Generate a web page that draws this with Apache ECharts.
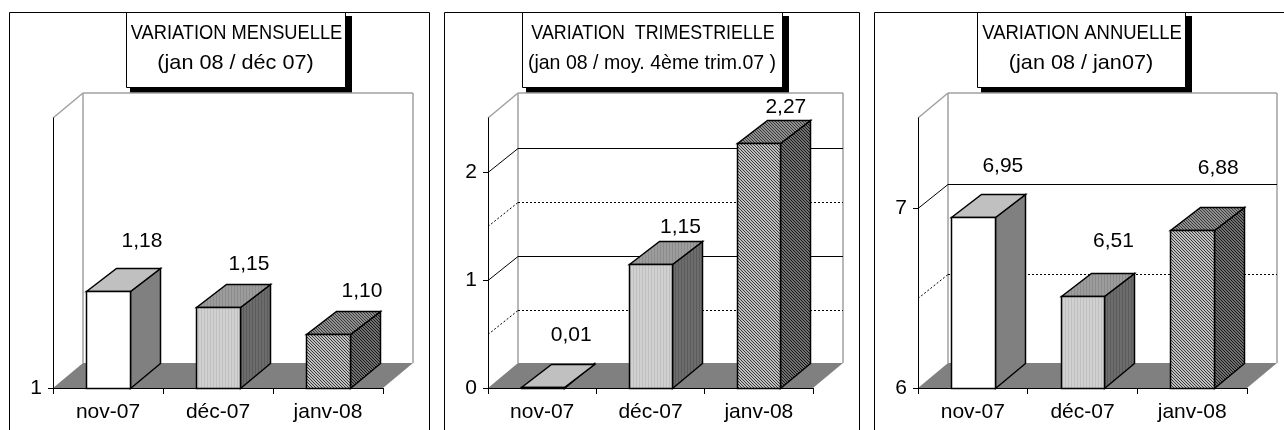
<!DOCTYPE html>
<html>
<head>
<meta charset="utf-8">
<style>
  html, body { margin: 0; padding: 0; background: #fff; }
  #chart { width: 1284px; height: 430px; }
</style>
</head>
<body>
<div id="chart"></div>
<script src="https://cdn.jsdelivr.net/npm/echarts@6/dist/echarts.min.js"></script>
<script>
const categories = ['nov-07', 'déc-07', 'janv-08']

const mensuelleValues = [1.18, 1.15, 1.10]
const trimestrielleValues = [0.01, 1.15, 2.27]
const annuelleValues = [6.95, 6.51, 6.88]

const mensuelleTicks = [1]
const trimestrielleTicks = [0, 1, 2]
const annuelleTicks = [6, 7]

const trimestrielleMinor = [0.5, 1.5]
const annuelleMinor = [6.5]

const FONT = '"Liberation Sans", Arial, sans-serif'
const DEPTH_X = 30
const DEPTH_Y = 25
const GRID_DEPTH_Y = 24
const BAR_DEPTH_Y = 23

// same hatch everywhere, only the two tones change
const makePattern = (bg, fg, vertical) => {
  const size = 3
  const c = document.createElement('canvas')
  c.width = size
  c.height = size
  const ctx = c.getContext('2d')
  ctx.fillStyle = bg
  ctx.fillRect(0, 0, size, size)
  ctx.fillStyle = fg
  if (vertical) {
    ctx.fillRect(0, 0, 1, size)
  } else {
    for (let i = 0; i < size; i++) ctx.fillRect(i, i, 1, 1)
  }
  return { image: c, repeat: 'repeat' }
}

const barFills = [
  { front: '#ffffff', top: '#c0c0c0', side: '#808080' },
  {
    front: makePattern('#d0d0d0', '#c0c0c0', true),
    top: makePattern('#9c9c9c', '#8c8c8c', true),
    side: makePattern('#6c6c6c', '#5c5c5c', true)
  },
  {
    front: makePattern('#c0c0c0', '#383838'),
    top: makePattern('#909090', '#383838'),
    side: makePattern('#707070', '#181818')
  }
]

const panels = [
  {
    values: mensuelleValues, ticks: mensuelleTicks, minor: [], min: 1, max: 1.5,
    frame: [9, 420], plot: [53, 330],
    box: [126, 219],
    line1: 'VARIATION MENSUELLE', scale1: 0.87,
    line2: '(jan 08 / déc 07)', scale2: 1.03,
    labelX: [34, 31, 34], labelY: [27, 20, 20]
  },
  {
    values: trimestrielleValues, ticks: trimestrielleTicks, minor: trimestrielleMinor, min: 0, max: 2.5,
    frame: [444, 415], plot: [488, 325],
    box: [522, 260],
    line1: 'VARIATION  TRIMESTRIELLE', scale1: 0.85,
    line2: '(jan 08 / moy. 4ème trim.07 )', scale2: 0.93,
    labelX: [29, 30, 27], labelY: [29, 14, 13]
  },
  {
    values: annuelleValues, ticks: annuelleTicks, minor: annuelleMinor, min: 6, max: 7.5,
    frame: [874, 440], plot: [918, 329],
    box: [977, 208],
    line1: 'VARIATION ANNUELLE', scale1: 0.88,
    line2: '(jan 08 / jan07)', scale2: 1.03,
    labelX: [30, 31, 26], labelY: [28, 32, 39]
  }
]

const line = (x1, y1, x2, y2, stroke, lineWidth, lineDash) => ({
  type: 'line',
  shape: { x1, y1, x2, y2 },
  style: { stroke, lineWidth: lineWidth || 1, lineDash: lineDash || null }
})

const poly = (points, fill, stroke) => ({
  type: 'polygon',
  shape: { points },
  style: { fill, stroke: stroke || null, lineWidth: 1.5 }
})

// floor, walls and the gridlines, pushed back by the depth offset
const renderBackdrop = (panel) => (params, api) => {
  const { x, y, width, height } = params.coordSys
  const right = x + width
  const bottom = y + height
  const children = [
    poly([[x, bottom], [x + DEPTH_X, bottom - DEPTH_Y], [right + DEPTH_X, bottom - DEPTH_Y], [right, bottom]], '#808080'),
    line(x, y, x + DEPTH_X, y - DEPTH_Y, '#a0a0a0', 1.5),
    line(x + DEPTH_X, y - DEPTH_Y, right + DEPTH_X, y - DEPTH_Y, '#a0a0a0', 1.5),
    line(x + DEPTH_X, y - DEPTH_Y, x + DEPTH_X, bottom - DEPTH_Y, '#a0a0a0', 1.5),
    line(right + DEPTH_X, y - DEPTH_Y, right + DEPTH_X, bottom - DEPTH_Y, '#a0a0a0', 1.5)
  ]
  const addGrid = (v, dash) => {
    const py = Math.round(api.coord([0, v])[1]) + 0.5
    children.push(line(x, py, x + DEPTH_X, py - GRID_DEPTH_Y, '#000', 1, dash))
    children.push(line(x + DEPTH_X, py - GRID_DEPTH_Y, right + DEPTH_X, py - GRID_DEPTH_Y, '#000', 1, dash))
  }
  panel.ticks.filter((v) => v > panel.min).forEach((v) => addGrid(v))
  panel.minor.forEach((v) => addGrid(v, [2, 2]))
  return { type: 'group', children }
}

const renderBar = (panel) => (params, api) => {
  const i = params.dataIndex
  const value = api.value(1)
  const [cx, topY] = api.coord([api.value(0), value])
  const baseY = api.coord([api.value(0), panel.min])[1]
  const half = api.size([1, 0])[0] * 0.2
  const l = Math.round(cx - half) + 0.5
  const r = Math.round(cx + half) + 0.5
  const t = Math.round(topY) + 0.5
  const b = Math.round(baseY) + 0.5
  const fills = barFills[i]
  const dx = DEPTH_X
  const dy = BAR_DEPTH_Y
  return {
    type: 'group',
    children: [
      poly([[r, t], [r + dx, t - dy], [r + dx, b - DEPTH_Y], [r, b]], fills.side, '#000'),
      poly([[l, t], [l + dx, t - dy], [r + dx, t - dy], [r, t]], fills.top, '#000'),
      poly([[l, t], [r, t], [r, b], [l, b]], fills.front, '#000'),
      {
        type: 'text',
        style: {
          text: value.toFixed(2).replace('.', ','),
          x: cx + panel.labelX[i],
          y: t - dy - panel.labelY[i],
          fill: '#000',
          font: '21px ' + FONT,
          textAlign: 'center',
          textVerticalAlign: 'middle'
        }
      }
    ]
  }
}

const graphics = []
panels.forEach((p) => {
  const [bx, bw] = p.box
  const mid = bx + bw / 2
  graphics.push(
    { type: 'rect', shape: { x: p.frame[0] + 0.5, y: 12.5, width: p.frame[1], height: 440 }, style: { fill: 'none', stroke: '#000', lineWidth: 1 } },
    { type: 'rect', shape: { x: bx + 4, y: 16, width: bw + 3, height: 77 }, style: { fill: '#000' } },
    { type: 'rect', shape: { x: bx + 0.5, y: 12.5, width: bw, height: 75 }, style: { fill: '#fff', stroke: '#000', lineWidth: 1 } },
    { type: 'text', x: mid + 1, y: 33, scaleX: p.scale1, style: { text: p.line1, font: '21px ' + FONT, fill: '#000', textAlign: 'center', textVerticalAlign: 'middle' } },
    { type: 'text', x: mid, y: 63, scaleX: p.scale2, style: { text: p.line2, font: '21px ' + FONT, fill: '#000', textAlign: 'center', textVerticalAlign: 'middle' } }
  )
})

const chart = echarts.init(document.getElementById('chart'))

chart.setOption({
  animation: false,
  backgroundColor: '#fff',
  graphic: { elements: graphics },
  grid: panels.map((p) => ({ left: p.plot[0], width: p.plot[1], top: 118, height: 270 })),
  xAxis: panels.map((p, i) => ({
    type: 'category',
    gridIndex: i,
    data: categories,
    z: 5,
    axisLine: { lineStyle: { color: '#000', width: 1 } },
    axisTick: { show: true, length: 6, lineStyle: { color: '#000' } },
    axisLabel: { color: '#000', fontFamily: FONT, fontSize: 21, margin: 14, interval: 0 }
  })),
  yAxis: panels.map((p, i) => ({
    type: 'value',
    gridIndex: i,
    min: p.min,
    max: p.max,
    z: 5,
    splitLine: { show: false },
    axisLine: { show: true, lineStyle: { color: '#000', width: 1 } },
    axisTick: { show: true, length: 5, customValues: p.ticks, lineStyle: { color: '#000' } },
    axisLabel: { color: '#000', fontFamily: FONT, fontSize: 21, margin: 11, customValues: p.ticks }
  })),
  series: panels.flatMap((p, i) => [
    {
      type: 'custom',
      xAxisIndex: i,
      yAxisIndex: i,
      z: 1,
      silent: true,
      renderItem: renderBackdrop(p),
      encode: { x: 0, y: 1 },
      data: [[0, p.min]]
    },
    {
      type: 'custom',
      xAxisIndex: i,
      yAxisIndex: i,
      z: 2,
      silent: true,
      renderItem: renderBar(p),
      encode: { x: 0, y: 1 },
      data: p.values.map((v, k) => [k, v])
    }
  ])
})
</script>
</body>
</html>
